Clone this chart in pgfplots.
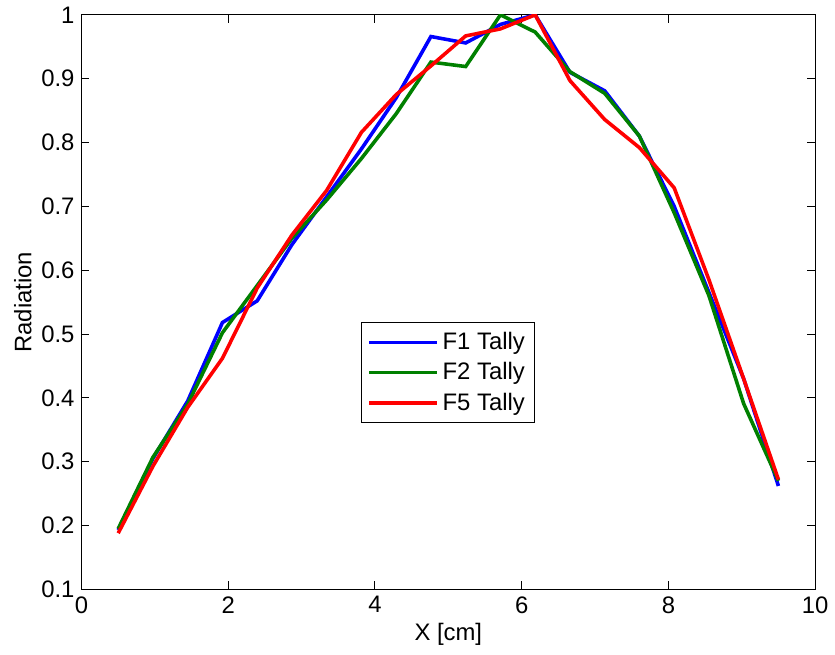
\documentclass[border=0pt]{standalone}
\usepackage{pgfplots}
\pgfplotsset{compat=1.18}
\usepackage{fontspec}
\setmainfont{Liberation Sans}
\definecolor{mblue}{RGB}{0,0,255}
\definecolor{mgreen}{RGB}{0,128,0}
\definecolor{mred}{RGB}{255,0,0}

\begin{document}
\begin{tikzpicture}
\begin{axis}[
  scale only axis,
  width=369pt, height=289pt,
  xmin=0, xmax=10, ymin=0.1, ymax=1,
  xtick={0,2,...,10},
  ytick={0.1,0.2,...,1.0},
  yticklabel style={/pgf/number format/fixed, /pgf/number format/precision=1},
  /pgf/number format/assume math mode=true,
  tick align=inside,
  major tick length=4pt,
  tick style={black, line width=0.5pt},
  axis line style={black, line width=0.6pt},
  ticklabel style={font=\fontsize{12}{14}\selectfont},
  label style={font=\fontsize{12}{14}\selectfont},
  xlabel={X [cm]},
  ylabel={Radiation},
  xlabel style={yshift=2pt},
  ylabel style={yshift=-2pt},
  legend style={at={(axis cs:3.81,0.519)}, anchor=north west,
    draw=black, line width=0.5pt, font=\fontsize{12}{14}\selectfont,
    row sep=1pt, inner xsep=3pt, inner ysep=3pt},
  legend cell align=left,
  legend image code/.code={\draw[#1] (0cm,0cm) -- (34pt,0cm);},
]
\addplot[mblue, line width=1.8pt] coordinates {
  (0.500,0.193) (0.974,0.305) (1.447,0.395) (1.921,0.518) (2.395,0.552)
  (2.868,0.640) (3.342,0.715) (3.816,0.790) (4.289,0.870) (4.763,0.966)
  (5.237,0.956) (5.711,0.985) (6.184,1.000) (6.658,0.910) (7.132,0.881)
  (7.605,0.810) (8.079,0.700) (8.553,0.565) (9.026,0.430) (9.500,0.262)
};
\addplot[mgreen, line width=1.8pt] coordinates {
  (0.500,0.195) (0.974,0.307) (1.447,0.390) (1.921,0.502) (2.395,0.576)
  (2.868,0.650) (3.342,0.710) (3.816,0.775) (4.289,0.845) (4.763,0.926)
  (5.237,0.919) (5.711,1.000) (6.184,0.973) (6.658,0.911) (7.132,0.877)
  (7.605,0.810) (8.079,0.690) (8.553,0.560) (9.026,0.391) (9.500,0.270)
};
\addplot[mred, line width=1.8pt] coordinates {
  (0.500,0.188) (0.974,0.293) (1.447,0.385) (1.921,0.462) (2.395,0.572)
  (2.868,0.655) (3.342,0.725) (3.816,0.816) (4.289,0.875) (4.763,0.920)
  (5.237,0.967) (5.711,0.978) (6.184,1.000) (6.658,0.897) (7.132,0.836)
  (7.605,0.792) (8.079,0.729) (8.553,0.585) (9.026,0.430) (9.500,0.272)
};
\legend{F1 Tally, F2 Tally, F5 Tally}
\end{axis}
\path (-41pt,-33pt) rectangle (376.5pt,295pt);
\end{tikzpicture}
\end{document}
